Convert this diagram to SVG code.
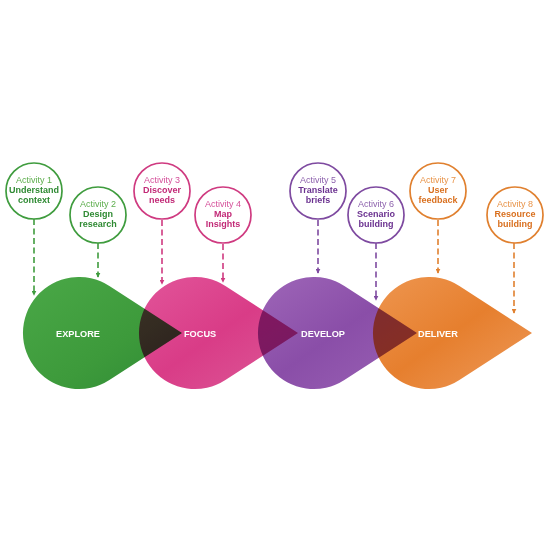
<svg xmlns="http://www.w3.org/2000/svg" width="550" height="550" viewBox="0 0 550 550">
<defs>
<style>
.drop{mix-blend-mode:multiply}
.act{fill:#fff;stroke-width:1.7}
.t1{font-family:"Liberation Sans",Arial,sans-serif;font-size:9px;text-anchor:middle}
.t2{font-family:"Liberation Sans",Arial,sans-serif;font-size:9px;font-weight:bold;text-anchor:middle}
.lbl{font-family:"Liberation Sans",Arial,sans-serif;font-size:9.2px;font-weight:bold;fill:#fff}
.con{fill:none;stroke-width:1.6;stroke-dasharray:6 3.5}
.g{stroke:#3f9c3e}.gt1{fill:#5eae4e}.gt2{fill:#2f8a33}
.p{stroke:#cf3a80}.pt1{fill:#d5509a}.pt2{fill:#c22a77}
.v{stroke:#7e4aa0}.vt1{fill:#8d62ad}.vt2{fill:#6b3290}
.o{stroke:#e0802f}.ot1{fill:#e8944a}.ot2{fill:#d9701f}
</style>
<path id="drop" d="M159,0 L86.4,-47 A56,56 0 1,0 86.4,47 Z"/>
<linearGradient id="gg" x1="0" y1="0" x2="1" y2="1"><stop offset="0" stop-color="#4aa847"/><stop offset="0.6" stop-color="#3d9a3b"/><stop offset="1" stop-color="#2f8a35"/></linearGradient>
<linearGradient id="gp" x1="0" y1="0" x2="1" y2="1"><stop offset="0" stop-color="#e2559a"/><stop offset="0.5" stop-color="#d93c87"/><stop offset="1" stop-color="#dc5a98"/></linearGradient>
<linearGradient id="gv" x1="0" y1="0" x2="1" y2="1"><stop offset="0" stop-color="#9e66b8"/><stop offset="0.5" stop-color="#8a4ea8"/><stop offset="1" stop-color="#9a62b5"/></linearGradient>
<linearGradient id="go" x1="0" y1="0" x2="1" y2="1"><stop offset="0" stop-color="#ee9650"/><stop offset="0.5" stop-color="#e67f2e"/><stop offset="1" stop-color="#ee9a5a"/></linearGradient>
<marker id="ag" viewBox="0 0 8 8" refX="7" refY="4" markerWidth="5" markerHeight="5" markerUnits="userSpaceOnUse" orient="auto"><path d="M0,0 L8,4 L0,8 Z" fill="#3f9c3e"/></marker>
<marker id="ap" viewBox="0 0 8 8" refX="7" refY="4" markerWidth="5" markerHeight="5" markerUnits="userSpaceOnUse" orient="auto"><path d="M0,0 L8,4 L0,8 Z" fill="#cf3a80"/></marker>
<marker id="av" viewBox="0 0 8 8" refX="7" refY="4" markerWidth="5" markerHeight="5" markerUnits="userSpaceOnUse" orient="auto"><path d="M0,0 L8,4 L0,8 Z" fill="#7e4aa0"/></marker>
<marker id="ao" viewBox="0 0 8 8" refX="7" refY="4" markerWidth="5" markerHeight="5" markerUnits="userSpaceOnUse" orient="auto"><path d="M0,0 L8,4 L0,8 Z" fill="#e0802f"/></marker>
</defs>
<rect width="550" height="550" fill="#fff"/>

<g id="phases">
<g id="explore"><use href="#drop" class="drop" transform="translate(23,333)" fill="url(#gg)"/></g>
<g id="focus"><use href="#drop" class="drop" transform="translate(139,333)" fill="url(#gp)"/></g>
<g id="develop"><use href="#drop" class="drop" transform="translate(258,333)" fill="url(#gv)"/></g>
<g id="deliver"><use href="#drop" class="drop" transform="translate(373,333)" fill="url(#go)"/></g>
<text class="lbl" x="56" y="336.5">EXPLORE</text>
<text class="lbl" x="184" y="336.5">FOCUS</text>
<text class="lbl" x="301" y="336.5">DEVELOP</text>
<text class="lbl" x="418" y="336.5">DELIVER</text>
</g>

<g id="connectors">
<line class="con g" x1="34" y1="219" x2="34" y2="295" marker-end="url(#ag)"/>
<line class="con g" x1="98" y1="243" x2="98" y2="277" marker-end="url(#ag)"/>
<line class="con p" x1="162" y1="220" x2="162" y2="284" marker-end="url(#ap)"/>
<line class="con p" x1="223" y1="244" x2="223" y2="282" marker-end="url(#ap)"/>
<line class="con v" x1="318" y1="220" x2="318" y2="273" marker-end="url(#av)"/>
<line class="con v" x1="376" y1="243" x2="376" y2="300" marker-end="url(#av)"/>
<line class="con o" x1="438" y1="220" x2="438" y2="273" marker-end="url(#ao)"/>
<line class="con o" x1="514" y1="243" x2="514" y2="313" marker-end="url(#ao)"/>
</g>

<g id="activity1"><circle class="act g" cx="34" cy="191" r="28"/>
<text class="t1 gt1" x="34" y="183">Activity 1</text><text class="t2 gt2" x="34" y="193">Understand</text><text class="t2 gt2" x="34" y="203">context</text></g>
<g id="activity2"><circle class="act g" cx="98" cy="215" r="28"/>
<text class="t1 gt1" x="98" y="207">Activity 2</text><text class="t2 gt2" x="98" y="217">Design</text><text class="t2 gt2" x="98" y="227">research</text></g>
<g id="activity3"><circle class="act p" cx="162" cy="191" r="28"/>
<text class="t1 pt1" x="162" y="183">Activity 3</text><text class="t2 pt2" x="162" y="193">Discover</text><text class="t2 pt2" x="162" y="203">needs</text></g>
<g id="activity4"><circle class="act p" cx="223" cy="215" r="28"/>
<text class="t1 pt1" x="223" y="207">Activity 4</text><text class="t2 pt2" x="223" y="217">Map</text><text class="t2 pt2" x="223" y="227">Insights</text></g>
<g id="activity5"><circle class="act v" cx="318" cy="191" r="28"/>
<text class="t1 vt1" x="318" y="183">Activity 5</text><text class="t2 vt2" x="318" y="193">Translate</text><text class="t2 vt2" x="318" y="203">briefs</text></g>
<g id="activity6"><circle class="act v" cx="376" cy="215" r="28"/>
<text class="t1 vt1" x="376" y="207">Activity 6</text><text class="t2 vt2" x="376" y="217">Scenario</text><text class="t2 vt2" x="376" y="227">building</text></g>
<g id="activity7"><circle class="act o" cx="438" cy="191" r="28"/>
<text class="t1 ot1" x="438" y="183">Activity 7</text><text class="t2 ot2" x="438" y="193">User</text><text class="t2 ot2" x="438" y="203">feedback</text></g>
<g id="activity8"><circle class="act o" cx="515" cy="215" r="28"/>
<text class="t1 ot1" x="515" y="207">Activity 8</text><text class="t2 ot2" x="515" y="217">Resource</text><text class="t2 ot2" x="515" y="227">building</text></g>
</svg>
